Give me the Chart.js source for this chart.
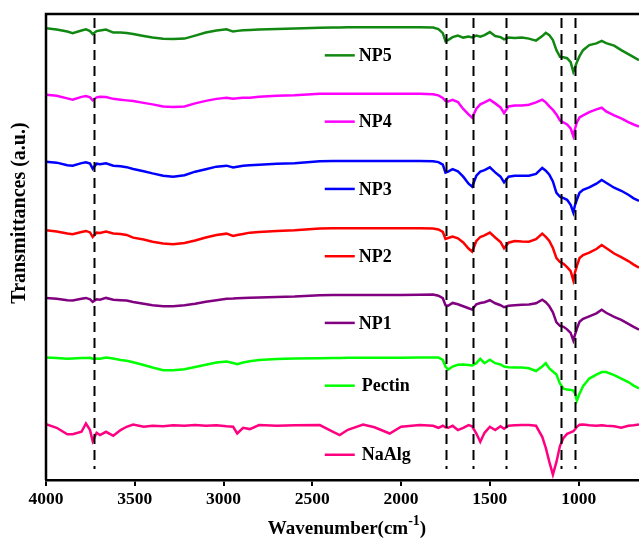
<!DOCTYPE html>
<html>
<head>
<meta charset="utf-8">
<title>FTIR</title>
<script src="https://cdn.jsdelivr.net/npm/chart.js@4.4.1/dist/chart.umd.min.js"></script>
<style>
  html, body { margin: 0; padding: 0; background: #fff; }
</style>
</head>
<body>
<canvas id="ftir" width="639" height="540"></canvas>
<script>
// Numeros de onda (cm-1)
const wavenumbers = [4000, 3940, 3880, 3850, 3800, 3775, 3752, 3737, 3715, 3696,
  3662, 3621, 3580, 3546, 3509, 3450, 3400, 3340, 3284, 3220,
  3160, 3100, 3040, 2983, 2946, 2923, 2890, 2852, 2800, 2700,
  2600, 2458, 2383, 2346, 2300, 2214, 2150, 2064, 2000, 1895,
  1820, 1790, 1765, 1750, 1735, 1710, 1680, 1650, 1620, 1600,
  1576, 1554, 1530, 1500, 1470, 1440, 1420, 1395, 1360, 1320,
  1280, 1240, 1205, 1185, 1165, 1145, 1125, 1105, 1085, 1065,
  1045, 1030, 1020, 1010, 995, 975, 940, 900, 870, 845,
  800, 760, 720, 690, 660];

// Transmitancia (u.a.) de cada amostra, ja com deslocamento vertical
const np5 = [449.7, 448.5, 446.5, 445, 447.5, 448.7, 447, 444, 447, 447.5,
  448.5, 445.5, 445.5, 445, 444, 442, 440.5, 439.3, 439, 439.5,
  442.5, 445.5, 447.5, 448.7, 446.5, 447.2, 447.7, 448, 448.5, 449,
  449.5, 450.3, 450.5, 450.5, 450.7, 450.8, 450.8, 450.8, 450.7, 450.7,
  450.5, 449, 445, 437, 438, 441, 442.5, 440.5, 441.5, 440.7,
  442.5, 441.5, 443, 446, 442, 441, 438.7, 440.5, 440, 440.5,
  439.5, 437.5, 442, 445.3, 443, 438, 428, 421.3, 421, 420,
  416, 406.5, 411, 416, 422, 428, 433, 434.7, 437.3, 435,
  432.5, 428, 424, 421, 418];

const np4 = [383.7, 382.5, 380, 378.7, 381.5, 382.3, 381, 378, 381, 381.5,
  381.3, 379.5, 378.7, 378, 377.3, 375.5, 374, 372, 371.3, 372,
  375, 377.5, 379.5, 380.7, 379.7, 380.2, 380.5, 380.7, 381.5, 382.5,
  383, 384.5, 384.7, 384.7, 384.7, 384.7, 384.7, 384.7, 384.7, 384.7,
  384, 383, 380.5, 377.5, 377, 378.5, 376.3, 369.5, 364, 360.7,
  369.7, 374, 376, 378.7, 375, 371, 365.3, 372, 373, 373,
  373.7, 376, 378.7, 376, 372, 368.5, 364, 358, 356, 354,
  350, 342.5, 350, 356, 361, 363, 366.3, 369, 370.7, 367,
  363, 360, 356.3, 354, 352];

const np3 = [317, 316, 313.5, 313, 315.5, 316.3, 315, 310, 315, 314.5,
  315.3, 313, 312.5, 311.5, 309.7, 307.5, 305.3, 303, 302, 303.5,
  307, 309.5, 312, 313, 311.3, 312, 313, 313.5, 314, 315,
  315.5, 317.3, 317.7, 317.7, 317.7, 317.7, 317.7, 317.7, 317.7, 317.7,
  317.3, 316.5, 314, 306, 307, 309.5, 307.3, 302, 295, 292,
  303, 307, 308.5, 311.3, 306.3, 302, 296.3, 302, 303, 303,
  303, 304.7, 310.7, 308, 304, 297.3, 286, 282, 280.7, 279,
  274, 266.3, 274, 279, 286, 289, 291.3, 295, 298.7, 296,
  291, 288, 284, 280.5, 278];

const np2 = [248.7, 247.5, 245.5, 244.7, 247, 248, 246.5, 242, 246.3, 246,
  247.3, 245.5, 245, 244, 241.3, 239.5, 237.3, 235.5, 234.7, 236,
  238.5, 241.5, 244, 245.3, 243, 244, 245, 246.3, 247, 248,
  248.7, 250.3, 250.7, 250.7, 250.7, 250.7, 250.7, 250.7, 250.7, 250.7,
  250.5, 249.5, 247, 240, 241, 242.5, 240.7, 236.5, 230.5, 227.3,
  238, 242, 243.5, 246.3, 241.5, 237, 230.7, 236.3, 238, 237.5,
  237.3, 239.7, 245.3, 242, 238, 231, 221, 217, 215.3, 212,
  208, 198.7, 207, 213, 221, 224, 226.3, 230, 234, 231,
  225.5, 222, 218, 214.5, 211.3];

const np1 = [181.3, 180.5, 179, 178.7, 180.5, 181.3, 180, 177.3, 180, 179.5,
  181.3, 179.5, 179, 178.7, 177.3, 175.5, 174, 173, 173, 174,
  175.5, 177.5, 179, 180.5, 180.7, 181, 181.2, 181.5, 181.8, 182.2,
  182.7, 184, 184.3, 184.3, 184.3, 184.3, 184.3, 184.3, 184.3, 184.5,
  184.7, 183.5, 181, 174, 173.5, 176.3, 175, 173, 171, 169.7,
  175, 176.3, 177, 179, 176, 174, 172, 173.5, 174, 174.5,
  174.7, 176, 179.5, 177, 173, 167, 157, 153.5, 152.5, 150,
  146.5, 139, 145, 150.5, 157.5, 160.5, 163, 166, 169.5, 166.5,
  162.5, 159.5, 155.5, 152.5, 149.7];

const pectin = [122, 121.5, 120.7, 121, 121.5, 121.5, 121.7, 120.7, 121, 120.7,
  122, 121, 119.5, 118.7, 117.3, 114.5, 112, 109.3, 109.3, 110.3,
  112.5, 114.7, 117, 118, 116.5, 115.3, 117, 118.2, 119.5, 120.5,
  121, 121.3, 121.5, 121.5, 121.7, 121.7, 121.7, 121.8, 121.8, 122,
  122, 122, 119.5, 113, 110, 113, 114.7, 115, 114.5, 114,
  116.3, 120.7, 116.3, 119.7, 116.3, 115, 113, 112.3, 112, 112,
  111.3, 108.5, 113, 116.3, 111, 108, 105, 96, 91, 90,
  89.7, 89, 86, 79, 86, 93.5, 101, 105, 107.5, 107.5,
  104.5, 101, 97.5, 94, 91.3];

const naAlg = [55.7, 52, 45.5, 45.5, 48, 56.3, 49.7, 38.7, 47, 44.7,
  48, 44, 49.7, 53, 55.3, 53, 54, 53.5, 54.5, 54,
  54.7, 54, 54.5, 53.5, 53, 46.3, 52, 50.7, 54.7, 54,
  54.5, 54.7, 48, 44.7, 50, 55.3, 52.5, 46.3, 53, 54.7,
  54, 52, 54, 52.5, 52, 54, 49.7, 52, 54.7, 53.5,
  46.3, 38, 47, 53, 49.7, 53.5, 51, 54, 54.5, 54.7,
  54.7, 54, 43, 32, 18, 5.3, 18, 34, 42, 46,
  47.5, 48.5, 50.5, 53, 55, 55.3, 54.5, 54, 54.5, 54,
  53.5, 52, 54, 54.5, 55.3];

const seriesNames = ["NP5", "NP4", "NP3", "NP2", "NP1", "Pectin", "NaAlg"];
const seriesValues = [np5, np4, np3, np2, np1, pectin, naAlg];
const seriesColors = ["#118811", "#ff00ff", "#0000ff", "#ff0000", "#800080", "#00ff00", "#ff0080"];

// Bandas marcadas com linha tracejada
const peakLines = [3730, 1745, 1595, 1410, 1100, 1020];
const xTicks = [4000, 3500, 3000, 2500, 2000, 1500, 1000];

const serif = "'Liberation Serif', 'Times New Roman', serif";

// Linhas tracejadas, moldura, legenda e titulos
const decor = {
  id: "decor",
  afterDatasetsDraw(chart) {
    const ctx = chart.ctx;
    const x = chart.scales.x;
    const y = chart.scales.y;
    const area = chart.chartArea;

    ctx.save();
    ctx.strokeStyle = "#000";
    ctx.lineWidth = 2;
    ctx.setLineDash([10, 6]);
    peakLines.forEach(w => {
      let px = Math.round(x.getPixelForValue(w)) + 0.5;
      ctx.beginPath();
      ctx.moveTo(px, y.getPixelForValue(460));
      ctx.lineTo(px, y.getPixelForValue(11));
      ctx.stroke();
    });
    ctx.setLineDash([]);

    // Moldura (topo e esquerda)
    ctx.lineWidth = 2.5;
    ctx.beginPath();
    ctx.moveTo(area.left, area.bottom);
    ctx.lineTo(area.left, area.top);
    ctx.lineTo(area.right, area.top);
    ctx.stroke();

    // Legenda ao lado de cada curva
    let base = wavenumbers.indexOf(2000);
    ctx.font = "bold 18px " + serif;
    ctx.textBaseline = "middle";
    ctx.fillStyle = "#000";
    seriesNames.forEach((name, i) => {
      let py = y.getPixelForValue(seriesValues[i][base]) + 28;
      ctx.strokeStyle = seriesColors[i];
      ctx.lineWidth = 2.5;
      ctx.beginPath();
      ctx.moveTo(x.getPixelForValue(2430), py);
      ctx.lineTo(x.getPixelForValue(2261), py);
      ctx.stroke();
      ctx.fillText(name, x.getPixelForValue(2261) + (name.startsWith("NP") ? 4 : 7), py + 1);
    });

    // Titulo do eixo x com expoente
    ctx.font = "bold 19px " + serif;
    ctx.textBaseline = "alphabetic";
    let t1 = "Wavenumber(cm", t2 = "-1", t3 = ")";
    let w1 = ctx.measureText(t1).width;
    let w3 = ctx.measureText(t3).width;
    ctx.font = "bold 14px " + serif;
    let w2 = ctx.measureText(t2).width;
    let sx = 347 - (w1 + w2 + w3) / 2;
    let by = 534;
    ctx.font = "bold 19px " + serif;
    ctx.fillText(t1, sx, by);
    ctx.font = "bold 14px " + serif;
    ctx.fillText(t2, sx + w1, by - 9);
    ctx.font = "bold 19px " + serif;
    ctx.fillText(t3, sx + w1 + w2, by);

    // Titulo do eixo y
    ctx.font = "bold 20px " + serif;
    ctx.translate(20, 213);
    ctx.rotate(-Math.PI / 2);
    ctx.textAlign = "center";
    ctx.textBaseline = "middle";
    ctx.fillText("Transmittances (a.u.)", 0, 0);
    ctx.restore();
  }
};

const datasets = seriesNames.map((name, i) => ({
  label: name,
  data: wavenumbers.map((w, j) => ({ x: w, y: seriesValues[i][j] })),
  borderColor: seriesColors[i],
  borderWidth: 2.5,
  pointRadius: 0,
  tension: 0,
  fill: false
}));

const MyChart = new Chart("ftir", {
  type: "line",
  data: { datasets: datasets },
  plugins: [decor],
  options: {
    responsive: false,
    animation: false,
    layout: { padding: { left: 46, top: 14, right: 0, bottom: 27 } },
    plugins: {
      legend: { display: false },
      tooltip: { enabled: false }
    },
    scales: {
      x: {
        type: "linear",
        reverse: true,
        min: 660,
        max: 4000,
        afterBuildTicks: axis => { axis.ticks = xTicks.map(v => ({ value: v })); },
        grid: { drawOnChartArea: false, drawTicks: true, tickLength: 6, color: "#000", lineWidth: 2 },
        border: { display: true, color: "#000", width: 2.5 },
        ticks: {
          color: "#000",
          padding: 3,
          maxRotation: 0,
          autoSkip: false,
          callback: v => String(v),
          font: { family: serif, size: 17.5, weight: "bold" }
        }
      },
      y: {
        display: false,
        min: 0,
        max: 464
      }
    }
  }
});
</script>
</body>
</html>
